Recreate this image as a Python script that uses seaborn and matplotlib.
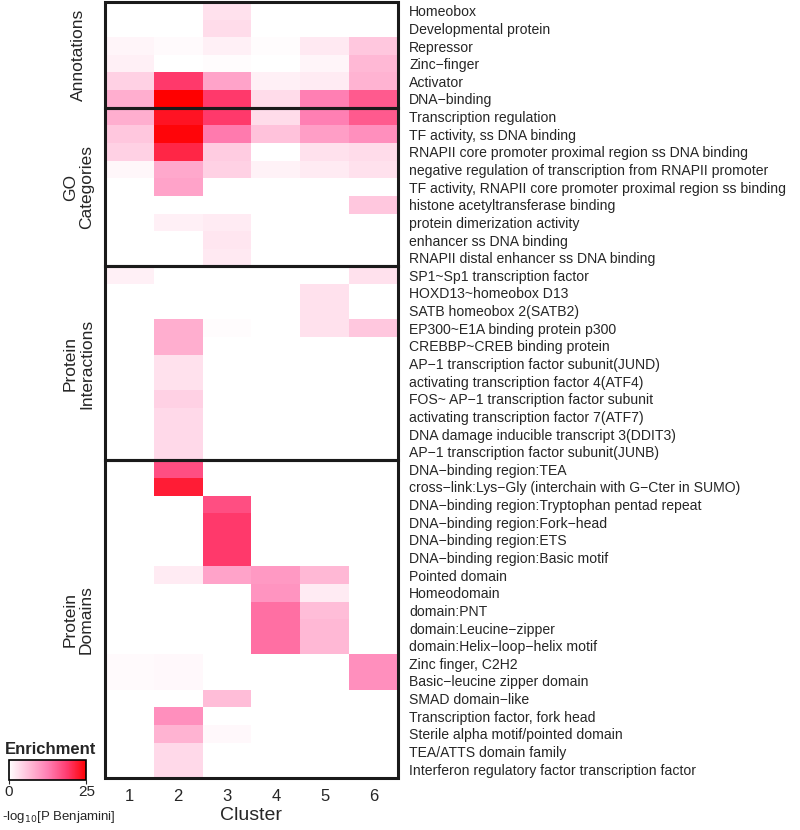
import numpy as np
import pandas as pd
import seaborn as sns
import matplotlib.pyplot as plt
from matplotlib.colors import LinearSegmentedColormap
from matplotlib.patches import Rectangle

clusters = ["1", "2", "3", "4", "5", "6"]

terms = [
    "Homeobox", "Developmental protein", "Repressor", "Zinc\u2212finger", "Activator", "DNA\u2212binding",
    "Transcription regulation", "TF activity, ss DNA binding",
    "RNAPII core promoter proximal region ss DNA binding",
    "negative regulation of transcription from RNAPII promoter",
    "TF activity, RNAPII core promoter proximal region ss binding",
    "histone acetyltransferase binding", "protein dimerization activity",
    "enhancer ss DNA binding", "RNAPII distal enhancer ss DNA binding",
    "SP1~Sp1 transcription factor", "HOXD13~homeobox D13", "SATB homeobox 2(SATB2)",
    "EP300~E1A binding protein p300", "CREBBP~CREB binding protein",
    "AP\u22121 transcription factor subunit(JUND)", "activating transcription factor 4(ATF4)",
    "FOS~ AP\u22121 transcription factor subunit", "activating transcription factor 7(ATF7)",
    "DNA damage inducible transcript 3(DDIT3)", "AP\u22121 transcription factor subunit(JUNB)",
    "DNA\u2212binding region:TEA", "cross\u2212link:Lys\u2212Gly (interchain with G\u2212Cter in SUMO)",
    "DNA\u2212binding region:Tryptophan pentad repeat", "DNA\u2212binding region:Fork\u2212head",
    "DNA\u2212binding region:ETS", "DNA\u2212binding region:Basic motif", "Pointed domain",
    "Homeodomain", "domain:PNT", "domain:Leucine\u2212zipper", "domain:Helix\u2212loop\u2212helix motif",
    "Zinc finger, C2H2", "Basic\u2212leucine zipper domain", "SMAD domain\u2212like",
    "Transcription factor, fork head", "Sterile alpha motif/pointed domain",
    "TEA/ATTS domain family", "Interferon regulatory factor transcription factor",
]

# -log10 P (Benjamini) per term, clusters 1..6
annotations = [
    [0, 0, 3, 0, 0, 0],
    [0, 0, 3.5, 0, 0, 0],
    [1, 0.5, 1.5, 0.3, 2.2, 5.5],
    [1.5, 0, 0.3, 0, 1, 7],
    [4.5, 19, 9, 1.5, 2, 7.5],
    [8, 25, 19, 3.5, 12.5, 16],
]
go_categories = [
    [8, 23, 19, 3.5, 12.5, 16],
    [5.5, 24.5, 13, 6, 9.5, 11],
    [4.5, 21, 5, 0, 3, 3.5],
    [0.8, 8.5, 4.5, 1.3, 2, 3],
    [0, 9, 0, 0, 0, 0],
    [0, 0, 0, 0, 0, 5.5],
    [0, 1.5, 2, 0, 0, 0],
    [0, 0, 2.5, 0, 0, 0],
    [0, 0, 2.2, 0, 0, 0],
]
protein_interactions = [
    [1.5, 0, 0, 0, 0, 3],
    [0, 0, 0, 0, 3, 0],
    [0, 0, 0, 0, 3, 0],
    [0, 8, 0.3, 0, 3, 5.5],
    [0, 8, 0, 0, 0, 0],
    [0, 3, 0, 0, 0, 0],
    [0, 3, 0, 0, 0, 0],
    [0, 4.5, 0, 0, 0, 0],
    [0, 3.8, 0, 0, 0, 0],
    [0, 3.8, 0, 0, 0, 0],
    [0, 3.8, 0, 0, 0, 0],
]
protein_domains = [
    [0, 17, 0, 0, 0, 0],
    [0, 22, 0, 0, 0, 0],
    [0, 0, 17, 0, 0, 0],
    [0, 0, 19, 0, 0, 0],
    [0, 0, 19, 0, 0, 0],
    [0, 0, 19, 0, 0, 0],
    [0, 2, 9, 10, 7, 0],
    [0, 0, 0, 10.5, 2, 0],
    [0, 0, 0, 14, 6.5, 0],
    [0, 0, 0, 14, 7, 0],
    [0, 0, 0, 14, 7, 0],
    [0.5, 0.7, 0, 0, 0, 11],
    [0.5, 0.7, 0, 0, 0, 11],
    [0, 0, 6.5, 0, 0, 0],
    [0, 11, 0, 0, 0, 0],
    [0, 7.5, 0.7, 0, 0, 0],
    [0, 3.8, 0, 0, 0, 0],
    [0, 3.8, 0, 0, 0, 0],
]

groups = [
    ("Annotations", annotations),
    ("GO\nCategories", go_categories),
    ("Protein\nInteractions", protein_interactions),
    ("Protein\nDomains", protein_domains),
]

df = pd.DataFrame(annotations + go_categories + protein_interactions + protein_domains,
                  index=terms, columns=clusters)

sns.set_style("white")
plt.rcParams["font.family"] = ["Liberation Sans", "DejaVu Sans"]

cmap = LinearSegmentedColormap.from_list(
    "enrich", [(0, "#FFFFFF"), (0.5, "#FF80B4"), (0.75, "#FF3C70"), (1, "#FF0000")])

fig = plt.figure(figsize=(8, 8.3), dpi=100)
ax = fig.add_axes([0.131, 0.0627, 0.3665, 0.935])
cax = fig.add_axes([0.011, 0.0605, 0.097, 0.024])

sns.heatmap(df, ax=ax, cmap=cmap, vmin=0, vmax=25, cbar_ax=cax,
            cbar_kws={"orientation": "horizontal", "ticks": [0, 25]})

ax.yaxis.tick_right()
ax.set_yticks(np.arange(len(terms)) + 0.5)
ax.set_yticklabels(terms, rotation=0, fontsize=10.1)
ax.tick_params(axis="y", length=0, pad=8)
ax.tick_params(axis="x", length=0, pad=8, labelsize=12)
ax.set_xticklabels(clusters, rotation=0)
ax.set_xlabel("Cluster", fontsize=14, labelpad=2)
ax.set_ylabel("")

# group boxes and labels
start = 0
for name, rows in groups:
    n = len(rows)
    ax.add_patch(Rectangle((0, start), len(clusters), n, fill=False,
                           edgecolor="#1a1a1a", lw=2.2, clip_on=False))
    ax.text(-0.09, start + n / 2, name, transform=ax.get_yaxis_transform(),
            rotation=90, ha="center", va="center", fontsize=12.5, linespacing=1.1)
    start += n

# colour bar
cax.set_title("Enrichment", fontsize=12, fontweight="bold", pad=4, loc="left", x=-0.05)
cax.tick_params(labelsize=11, length=3, pad=1)
cbar = ax.collections[0].colorbar
cbar.outline.set_edgecolor("black")
cbar.outline.set_linewidth(1.2)
fig.text(0.003, 0.006, "-log$_{10}$[P Benjamini]", fontsize=9.5, ha="left", va="bottom")

fig.savefig("out.png", dpi=100)
